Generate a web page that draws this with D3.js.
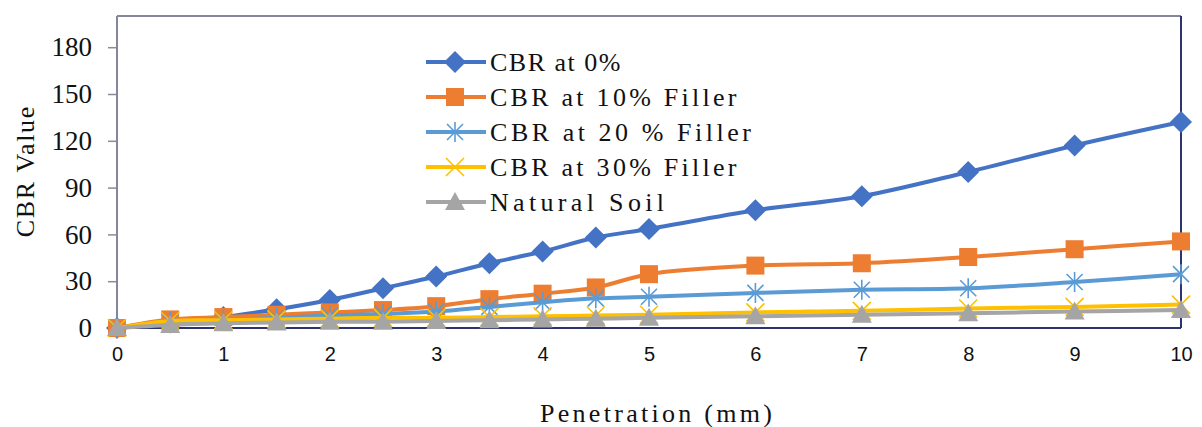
<!DOCTYPE html>
<html>
<head>
<meta charset="utf-8">
<script src="https://cdn.jsdelivr.net/npm/d3@7"></script>
<style>
  html, body { margin: 0; padding: 0; background: #fff; }
  svg { display: block; }
</style>
</head>
<body>
<svg id="chart" width="1202" height="427"></svg>
<script>
// Penetration depths (mm)
const penetration = [0, 0.5, 1, 1.5, 2, 2.5, 3, 3.5, 4, 4.5, 5, 6, 7, 8, 9, 10];

// CBR values per mix
const cbr0 = [0, 3.5, 7, 12, 18, 25.5, 33, 41.5, 49, 58, 63.5, 75.5, 84.5, 100, 117, 132];
const cbr10 = [0, 5.5, 7, 8.5, 10, 11.5, 14, 18.5, 22, 26, 34.5, 40, 41.5, 45.5, 50.5, 55.5];
const cbr20 = [0, 4, 5, 6.5, 8, 9, 10.5, 13.5, 16.5, 19, 20, 22.5, 24.5, 25.5, 29.5, 34.5];
const cbr30 = [0, 4.5, 5, 5.5, 6, 6.5, 6.5, 7, 7.5, 8, 8.5, 10, 11, 12.5, 13.5, 15];
const naturalSoil = [0, 2, 3, 3.5, 4, 4, 4.5, 5, 5.5, 6, 6.5, 7.5, 8.5, 9.5, 10.5, 11.5];

const seriesNames = ["CBR at 0%", "CBR at 10% Filler", "CBR at 20 % Filler", "CBR at 30% Filler", "Natural Soil"];
const yTicks = [0, 30, 60, 90, 120, 150, 180];
const xTicks = [0, 1, 2, 3, 4, 5, 6, 7, 8, 9, 10];

const series = [
  { name: seriesNames[0], values: cbr0, color: "#4472C4", marker: "diamond" },
  { name: seriesNames[1], values: cbr10, color: "#ED7D31", marker: "square" },
  { name: seriesNames[2], values: cbr20, color: "#5B9BD5", marker: "star" },
  { name: seriesNames[3], values: cbr30, color: "#FFC000", marker: "cross" },
  { name: seriesNames[4], values: naturalSoil, color: "#A5A5A5", marker: "triangle" }
];

const svg = d3.select("#chart");
const plotLeft = 117, plotRight = 1181, plotTop = 16, plotBottom = 328;

const x = d3.scaleLinear().domain([0, 10]).range([plotLeft, plotRight]);
const y = d3.scaleLinear().domain([0, 200]).range([plotBottom, plotTop]);

const serif = "'Liberation Serif', 'Times New Roman', serif";
const sans = "'Liberation Sans', Arial, sans-serif";
const charWidth = 14.5; // fixed advance per character for the label text

// Serif text laid out with an even, typewriter-like advance
function fixedText(sel, str) {
  return sel.attr("font-family", serif)
    .attr("font-size", 26)
    .attr("fill", "#111")
    .attr("textLength", str.length * charWidth)
    .attr("lengthAdjust", "spacing")
    .text(str);
}

// Y axis with ticks every 30
const yAxis = svg.append("g")
  .attr("transform", `translate(${plotLeft},0)`)
  .call(d3.axisLeft(y).tickValues(yTicks).tickSize(9).tickPadding(16).tickFormat(d3.format("d")));
yAxis.select(".domain").remove();
yAxis.selectAll("line").attr("stroke", "#8a8a9a").attr("stroke-width", 1.5);
yAxis.selectAll("text").attr("font-family", serif).attr("font-size", 27).attr("fill", "#111");

// X axis labels only
const xAxis = svg.append("g")
  .attr("transform", `translate(0,${plotBottom})`)
  .call(d3.axisBottom(x).tickValues(xTicks).tickSize(0).tickPadding(19).tickFormat(d3.format("d")));
xAxis.select(".domain").remove();
xAxis.selectAll("text").attr("font-family", sans).attr("font-size", 20).attr("fill", "#111");

// Plot frame: grey left/top, navy right/bottom
svg.append("line").attr("x1", plotLeft).attr("x2", plotLeft).attr("y1", plotTop).attr("y2", plotBottom)
  .attr("stroke", "#86869a").attr("stroke-width", 2);
svg.append("line").attr("x1", plotLeft).attr("x2", plotRight).attr("y1", plotTop).attr("y2", plotTop)
  .attr("stroke", "#86869a").attr("stroke-width", 2);
svg.append("line").attr("x1", plotRight).attr("x2", plotRight).attr("y1", plotTop).attr("y2", plotBottom)
  .attr("stroke", "#2c336e").attr("stroke-width", 2);
svg.append("line").attr("x1", plotLeft).attr("x2", plotRight).attr("y1", plotBottom).attr("y2", plotBottom)
  .attr("stroke", "#2c336e").attr("stroke-width", 2);

// Axis titles
svg.append("text")
  .attr("transform", "translate(25,172) rotate(-90)")
  .attr("text-anchor", "middle")
  .attr("dominant-baseline", "central")
  .call(fixedText, "CBR Value");
svg.append("text")
  .attr("x", 656).attr("y", 413)
  .attr("text-anchor", "middle")
  .attr("dominant-baseline", "central")
  .call(fixedText, "Penetration (mm)");

// Marker drawing
function drawMarker(g, type, color) {
  if (type === "diamond") {
    g.append("path").attr("d", "M0,-11L11,0L0,11L-11,0Z").attr("fill", color);
  } else if (type === "square") {
    g.append("rect").attr("x", -9).attr("y", -9).attr("width", 18).attr("height", 18).attr("fill", color);
  } else if (type === "star") {
    g.append("path").attr("d", "M-8,-8L8,8M-8,8L8,-8M0,-10L0,10")
      .attr("stroke", color).attr("stroke-width", 1.6).attr("fill", "none");
  } else if (type === "cross") {
    g.append("path").attr("d", "M-9,-9L9,9M-9,9L9,-9")
      .attr("stroke", color).attr("stroke-width", 1.6).attr("fill", "none");
  } else if (type === "triangle") {
    g.append("path").attr("d", "M0,-10L10,8L-10,8Z").attr("fill", color);
  }
}

const line = d3.line()
  .x((d, i) => x(penetration[i]))
  .y(d => y(d))
  .curve(d3.curveCatmullRom.alpha(0.5));

series.forEach(s => {
  const g = svg.append("g");
  g.append("path")
    .attr("d", line(s.values))
    .attr("fill", "none")
    .attr("stroke", s.color)
    .attr("stroke-width", 4)
    .attr("stroke-linejoin", "round");
  s.values.forEach((v, i) => {
    const m = g.append("g").attr("transform", `translate(${x(penetration[i])},${y(v)})`);
    drawMarker(m, s.marker, s.color);
  });
});

// Legend
const legend = svg.append("g");
series.forEach((s, i) => {
  const cy = 62 + i * 35;
  const row = legend.append("g");
  row.append("line").attr("x1", 426).attr("x2", 486).attr("y1", cy).attr("y2", cy)
    .attr("stroke", s.color).attr("stroke-width", 4);
  const m = row.append("g").attr("transform", `translate(455,${cy})`);
  drawMarker(m, s.marker, s.color);
  row.append("text")
    .attr("x", 490).attr("y", cy)
    .attr("dominant-baseline", "central")
    .call(fixedText, s.name);
});
</script>
</body>
</html>
